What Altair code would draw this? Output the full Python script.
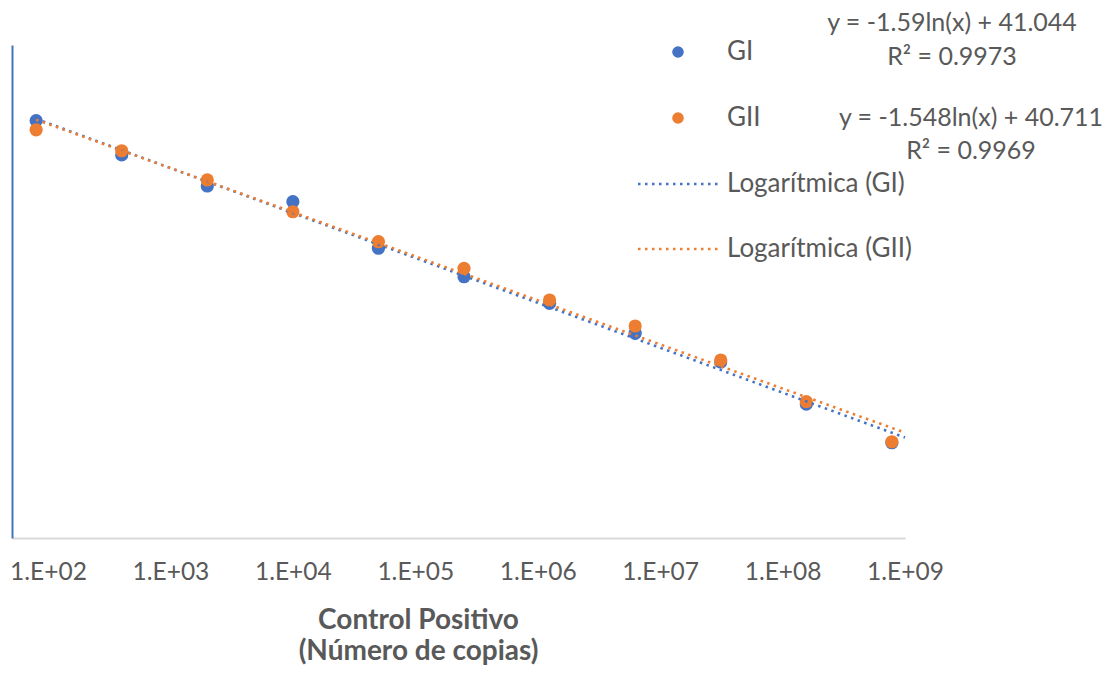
import altair as alt
import pandas as pd

# ---- data ----
copies = [80, 400, 2000, 10000, 50000, 250000, 1250000, 6250000, 31250000, 156250000, 781250000]
gi_ct = [33.86, 31.08, 28.56, 27.29, 23.51, 21.20, 19.04, 16.61, 14.28, 10.87, 7.73]
gii_ct = [33.12, 31.42, 29.05, 26.47, 24.04, 21.88, 19.31, 17.20, 14.44, 11.06, 7.81]
series_names = ["GI", "GII"]
tick_values = [1e2, 1e3, 1e4, 1e5, 1e6, 1e7, 1e8, 1e9]
eq_gi = ["y = -1.59ln(x) + 41.044", "R² = 0.9973"]
eq_gii = ["y = -1.548ln(x) + 40.711", "R² = 0.9969"]
trend_names = ["Logarítmica (GI)", "Logarítmica (GII)"]
x_title = ["Control Positivo", "(Número de copias)"]

BLUE = "#4472C4"
ORANGE = "#ED7D31"
TXT = "#595959"
FONT = "Lato"

rows = []
for c, a, b in zip(copies, gi_ct, gii_ct):
    rows.append({"copias": c, "ct": a, "serie": series_names[0]})
    rows.append({"copias": c, "ct": b, "serie": series_names[1]})
df = pd.DataFrame(rows)

W, H = 893, 493

xscale = alt.Scale(type="log", domain=[50.8, 1e9], nice=False)
yscale = alt.Scale(domain=[0, 40], nice=False, zero=False)
cscale = alt.Scale(domain=series_names, range=[BLUE, ORANGE])

xaxis = alt.Axis(
    values=tick_values,
    labelExpr="'1.E+0' + round(log(datum.value)/LN10)",
    grid=False, ticks=False, labelFlush=False, labelOverlap=False,
    domainColor="#D9D9D9", domainWidth=2,
    labelColor=TXT, labelFont=FONT, labelFontSize=24.5, labelPadding=22,
    title=x_title, titleFont=FONT, titleFontSize=28, titleFontWeight="bold",
    titleColor=TXT, titleX=406, titleY=82, titleAlign="center",
    titleBaseline="middle", titleLineHeight=31,
)
yaxis = alt.Axis(
    labels=False, ticks=False, grid=False, title=None,
    domainColor=BLUE, domainWidth=2,
)

base = alt.Chart(df)

points = base.mark_circle(size=175, opacity=1).encode(
    x=alt.X("copias:Q", scale=xscale, axis=xaxis),
    y=alt.Y("ct:Q", scale=yscale, axis=yaxis),
    color=alt.Color("serie:N", scale=cscale, legend=None),
    order=alt.Order("serie:N"),
)

trend = base.transform_regression(
    "copias", "ct", method="log", groupby=["serie"], extent=[80, 1e9]
).mark_line(strokeWidth=2.6, strokeDash=[2.5, 4.5], strokeCap="butt").encode(
    x=alt.X("copias:Q", scale=xscale),
    y=alt.Y("ct:Q", scale=yscale),
    color=alt.Color("serie:N", scale=cscale, legend=None),
)

one = pd.DataFrame({"k": [0]})

def txt(text, x, y, align="left", size=26):
    return alt.Chart(one).mark_text(
        text=text, align=align, baseline="middle", font=FONT,
        fontSize=size, color=TXT
    ).encode(x=alt.value(x), y=alt.value(y))

def dot(color, x, y):
    return alt.Chart(one).mark_point(
        shape="circle", filled=True, size=135, color=color, opacity=1
    ).encode(x=alt.value(x), y=alt.value(y))

def dline(color, x1, x2, y):
    return alt.Chart(one).mark_rule(
        color=color, strokeWidth=2.6, strokeDash=[2.5, 4.5], strokeCap="butt"
    ).encode(x=alt.value(x1), x2=alt.value(x2), y=alt.value(y))

ox, oy = 12, 45
legend = [
    dot(BLUE, 678 - ox, 52 - oy),
    txt(series_names[0], 727 - ox, 52 - oy),
    txt(eq_gi[0], 952 - ox, 23 - oy, align="center", size=25),
    txt(eq_gi[1], 952 - ox, 57 - oy, align="center", size=25),
    dot(ORANGE, 678 - ox, 118 - oy),
    txt(series_names[1], 727 - ox, 118 - oy),
    txt(eq_gii[0], 971 - ox, 118 - oy, align="center", size=25),
    txt(eq_gii[1], 971 - ox, 151 - oy, align="center", size=25),
    dline(BLUE, 638 - ox, 718 - ox, 184 - oy),
    txt(trend_names[0], 727 - ox, 184 - oy),
    dline(ORANGE, 638 - ox, 718 - ox, 249 - oy),
    txt(trend_names[1], 727 - ox, 249 - oy),
]

chart = alt.layer(points, trend, *legend).properties(
    width=W, height=H,
    autosize=alt.AutoSizeParams(type="none"),
    padding={"left": ox, "top": oy, "right": 1110 - ox - W, "bottom": 674 - oy - H},
    background="white",
).configure_view(stroke=None)

chart.save("out.html", embed_options={"renderer": "svg", "actions": False})
